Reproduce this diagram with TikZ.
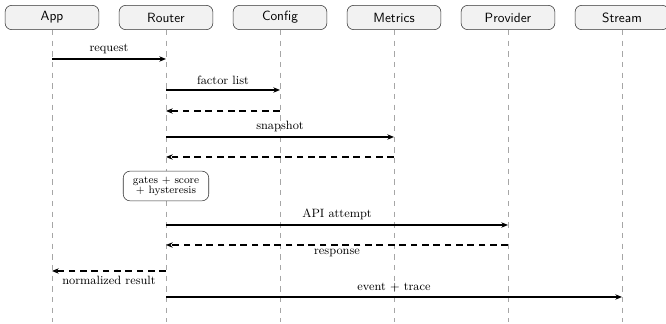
\documentclass[tikz,border=0pt]{standalone}
\usetikzlibrary{arrows.meta}
\begin{document}
\begin{tikzpicture}[x=0.026316cm,y=-0.026316cm,
  head/.style={draw=black!80,fill=black!5,rounded corners=5pt,minimum width=2.47cm,minimum height=0.64cm,font=\sffamily,inner sep=0pt},
  life/.style={draw=black!35,dash pattern=on 4pt off 4pt,line width=0.4pt},
  msg/.style={draw=black,line width=0.8pt,-{Stealth[length=5pt,width=4pt]}},
  ret/.style={msg,dash pattern=on 5pt off 3.5pt},
  lab/.style={font=\small,inner sep=1pt},
  notebox/.style={draw=black!80,fill=white,rounded corners=5pt,align=center,font=\footnotesize,inner sep=2pt,minimum width=2.25cm,minimum height=0.78cm}]
\useasboundingbox (0,0) rectangle (666,324);
\foreach \n/\t/\x in {1/App/52,2/Router/166,3/Config/280,4/Metrics/394,5/Provider/508,6/Stream/622}{
  \node[head] (h\n) at (\x,17.5) {\t};
  \coordinate (e\n) at (\x,322);
  \draw[life] (h\n.south) -- (e\n);
}
% message anchors
\coordinate (a1) at (h1 |- 0,59);   \coordinate (r1) at (h2 |- 0,59);
\coordinate (r2) at (h2 |- 0,90);   \coordinate (c2) at (h3 |- 0,90);
\coordinate (r3) at (h2 |- 0,111);  \coordinate (c3) at (h3 |- 0,111);
\coordinate (r4) at (h2 |- 0,137);  \coordinate (m4) at (h4 |- 0,137);
\coordinate (r5) at (h2 |- 0,157);  \coordinate (m5) at (h4 |- 0,157);
\coordinate (r7) at (h2 |- 0,225);  \coordinate (p7) at (h5 |- 0,225);
\coordinate (r8) at (h2 |- 0,245);  \coordinate (p8) at (h5 |- 0,245);
\coordinate (r9) at (h2 |- 0,271);  \coordinate (a9) at (h1 |- 0,271);
\coordinate (r10) at (h2 |- 0,297); \coordinate (s10) at (h6 |- 0,297);

\draw[msg] (a1) -- node[lab,above=2.5pt] (l1) {request} (r1);
\draw[msg] (r2) -- node[lab,above=2.5pt] (l2) {factor list} (c2);
\draw[ret] (c3) -- (r3);
\draw[msg] (r4) -- node[lab,above=2.5pt] (l4) {snapshot} (m4);
\draw[ret] (m5) -- (r5);
\node[notebox] (n6) at (166,186) {gates + score\\[-2pt]+ hysteresis};
\draw[msg] (r7) -- node[lab,above=2.5pt] (l7) {API attempt} (p7);
\draw[ret] (p8) -- node[lab,below=1.5pt] (l8) {response} (r8);
\draw[ret] (r9) -- node[lab,below=2.5pt] (l9) {normalized result} (a9);
\draw[msg] (r10) -- node[lab,above=2.5pt] (l10) {event + trace} (s10);
\end{tikzpicture}
\end{document}
